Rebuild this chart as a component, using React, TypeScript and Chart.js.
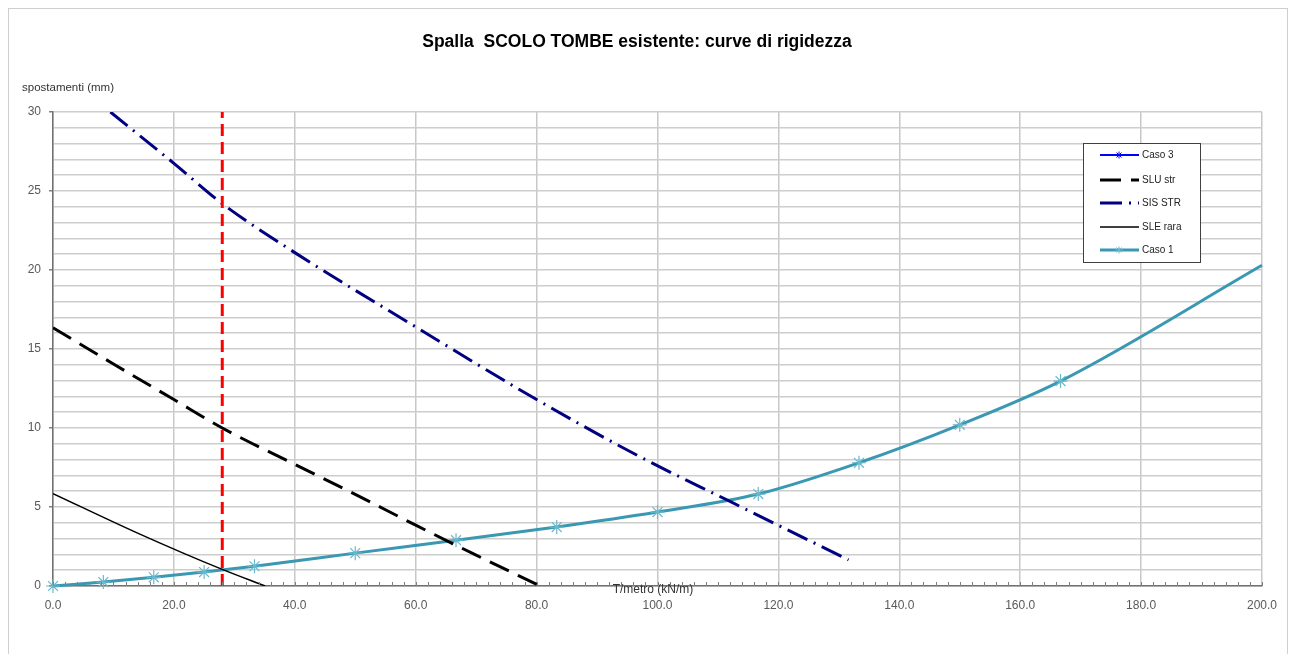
import React, { useEffect, useRef } from "react";
import { Chart, registerables } from "chart.js";

Chart.register(...registerables);

const caso1X = [0, 8.33, 16.67, 25, 33.33, 50, 66.67, 83.33, 100, 116.67, 133.33, 150, 166.67, 200];
const caso1Y = [0, 0.25, 0.55, 0.88, 1.25, 2.08, 2.9, 3.73, 4.68, 5.82, 7.8, 10.2, 12.97, 20.3];
const caso3X: number[] = [];
const caso3Y: number[] = [];
const sluX = [0, 10, 20, 28, 40, 50, 60, 70, 80.6];
const sluY = [16.35, 14.05, 11.8, 10.0, 7.7, 5.8, 3.85, 1.95, 0];
const sisX = [9.5, 20, 28, 40, 60, 80, 97, 112, 131.6];
const sisY = [30, 26.75, 24.2, 21.1, 16.4, 11.8, 8.2, 5.35, 1.65];
const sleX = [0, 14, 28, 35.1];
const sleY = [5.85, 3.35, 1.05, 0];
const limitX = [28, 28];
const limitY = [0, 30];

const titleText = "Spalla  SCOLO TOMBE esistente: curve di rigidezza";
const yTitle = "spostamenti (mm)";
const xTitle = "T/metro (kN/m)";
const legendOrder = ["Caso 3", "SLU str", "SIS STR", "SLE rara", "Caso 1"];

const FONT = "'Liberation Sans', Arial, sans-serif";

const pts = (xs: number[], ys: number[]) => xs.map((x, i) => ({ x, y: ys[i] }));

function drawAsterisk(ctx: CanvasRenderingContext2D, x: number, y: number, r: number) {
  ctx.beginPath();
  for (let k = 0; k < 4; k++) {
    const a = (k * Math.PI) / 4;
    ctx.moveTo(x - r * Math.cos(a), y - r * Math.sin(a));
    ctx.lineTo(x + r * Math.cos(a), y + r * Math.sin(a));
  }
  ctx.stroke();
}

const decorPlugin = {
  id: "decor",
  beforeDraw(chart: any) {
    const ctx = chart.ctx as CanvasRenderingContext2D;
    ctx.save();
    ctx.fillStyle = "#ffffff";
    ctx.fillRect(0, 0, chart.width, chart.height);
    ctx.strokeStyle = "#cfcfcf";
    ctx.lineWidth = 1;
    ctx.strokeRect(8.5, 8.5, 1279, 700);
    ctx.restore();
  },
  afterDraw(chart: any) {
    const ctx = chart.ctx as CanvasRenderingContext2D;
    const xs = chart.scales.x;
    const area = chart.chartArea;
    ctx.save();
    ctx.strokeStyle = "#808080";
    ctx.lineWidth = 1;
    ctx.beginPath();
    for (let v = 0; v <= 200; v += 2) {
      const px = Math.round(xs.getPixelForValue(v)) + 0.5;
      ctx.moveTo(px, area.bottom);
      ctx.lineTo(px, area.bottom - 4);
    }
    ctx.stroke();

    ctx.fillStyle = "#000";
    ctx.font = `bold 17.5px ${FONT}`;
    ctx.textAlign = "center";
    ctx.textBaseline = "middle";
    ctx.fillText(titleText, 637, 42);

    ctx.fillStyle = "#333";
    ctx.font = `11.5px ${FONT}`;
    ctx.textAlign = "left";
    ctx.fillText(yTitle, 22, 88);
    ctx.font = `12px ${FONT}`;
    ctx.textAlign = "center";
    ctx.fillText(xTitle, 653, 590);

    const lx = 1083.5, ly = 143.5, lw = 117, lh = 119;
    ctx.fillStyle = "#fff";
    ctx.fillRect(lx, ly, lw, lh);
    ctx.strokeStyle = "#404040";
    ctx.lineWidth = 1;
    ctx.strokeRect(lx, ly, lw, lh);
    const rows = [155, 180, 203, 227, 250];
    legendOrder.forEach((name, i) => {
      const ds = chart.data.datasets.find((d: any) => d.label === name);
      if (!ds) return;
      const y = rows[i];
      ctx.save();
      ctx.strokeStyle = ds.borderColor;
      ctx.lineWidth = ds.borderWidth;
      ctx.setLineDash(ds.borderDash || []);
      ctx.beginPath();
      ctx.moveTo(1100, y);
      ctx.lineTo(1139, y);
      ctx.stroke();
      ctx.setLineDash([]);
      if (ds.legendMarker) {
        ctx.strokeStyle = ds.pointBorderColor;
        ctx.lineWidth = 1;
        drawAsterisk(ctx, 1119, y, 3.5);
      }
      ctx.restore();
      ctx.fillStyle = "#222";
      ctx.font = `10px ${FONT}`;
      ctx.textAlign = "left";
      ctx.textBaseline = "middle";
      ctx.fillText(name, 1142, y);
    });
    ctx.restore();
  },
};

export default function App() {
  const ref = useRef<HTMLCanvasElement>(null);
  useEffect(() => {
    if (!ref.current) return;
    const chart = new Chart(ref.current, {
      type: "scatter",
      data: {
        datasets: [
          {
            label: "limit",
            data: pts(limitX, limitY),
            showLine: true,
            borderColor: "#ff0000",
            borderWidth: 3,
            borderDash: [12, 6],
            pointRadius: 0,
          },
          {
            label: "SLE rara",
            data: pts(sleX, sleY),
            showLine: true,
            borderColor: "#000000",
            borderWidth: 1.5,
            pointRadius: 0,
            cubicInterpolationMode: "monotone",
          },
          {
            label: "SLU str",
            data: pts(sluX, sluY),
            showLine: true,
            borderColor: "#000000",
            borderWidth: 3,
            borderDash: [21, 10],
            pointRadius: 0,
            cubicInterpolationMode: "monotone",
          },
          {
            label: "SIS STR",
            data: pts(sisX, sisY),
            showLine: true,
            borderColor: "#000080",
            borderWidth: 3,
            borderDash: [22, 7, 2, 7],
            pointRadius: 0,
            cubicInterpolationMode: "monotone",
          },
          {
            label: "Caso 3",
            data: pts(caso3X, caso3Y),
            showLine: true,
            borderColor: "#0000ff",
            borderWidth: 2,
            pointRadius: 0,
            pointBorderColor: "#0000ff",
            legendMarker: true,
          } as any,
          {
            label: "Caso 1",
            data: pts(caso1X, caso1Y),
            showLine: true,
            clip: false,
            borderColor: "#3a98b2",
            borderWidth: 3,
            pointStyle: "star",
            pointRadius: (c: any) => (c.dataIndex === caso1X.length - 1 ? 0 : 7),
            pointBorderColor: "#6ab8cc",
            pointBackgroundColor: "#6ab8cc",
            pointBorderWidth: 1.2,
            cubicInterpolationMode: "monotone",
            legendMarker: true,
          } as any,
        ],
      },
      options: {
        animation: false,
        responsive: true,
        maintainAspectRatio: false,
        layout: { padding: { left: 0, right: 28, top: 112, bottom: 38 } },
        plugins: {
          legend: { display: false },
          tooltip: { enabled: false },
          title: { display: false },
        },
        scales: {
          x: {
            type: "linear",
            min: 0,
            max: 200,
            afterFit: (s: any) => {
              s.height = 30;
            },
            ticks: {
              stepSize: 2,
              autoSkip: false,
              maxRotation: 0,
              padding: 12,
              color: "#595959",
              font: { family: FONT, size: 12 },
              callback: (v: any) => (Number(v) % 20 === 0 ? Number(v).toFixed(1) : ""),
            },
            grid: {
              drawTicks: false,
              lineWidth: 1.5,
              color: (c: any) => (c.tick && c.tick.value % 20 === 0 ? "#c8c8c8" : "rgba(0,0,0,0)"),
            },
            border: { color: "#707070", width: 1.5 },
          },
          y: {
            type: "linear",
            min: 0,
            max: 30,
            afterFit: (s: any) => {
              s.width = 53;
            },
            ticks: {
              stepSize: 1,
              autoSkip: false,
              padding: 8,
              color: "#595959",
              font: { family: FONT, size: 12 },
              callback: (v: any) => (Number(v) % 5 === 0 ? String(v) : ""),
            },
            grid: {
              lineWidth: 1.5,
              color: "#cdcdcd",
              tickLength: 4,
              tickColor: (c: any) => (c.tick && c.tick.value % 5 === 0 ? "#808080" : "rgba(0,0,0,0)"),
            },
            border: { color: "#707070", width: 1.5 },
          },
        },
      },
      plugins: [decorPlugin],
    });
    return () => chart.destroy();
  }, []);
  return (
    <div style={{ position: "absolute", left: 0, top: 0, width: 1290, height: 654 }}>
      <canvas ref={ref} />
    </div>
  );
}
